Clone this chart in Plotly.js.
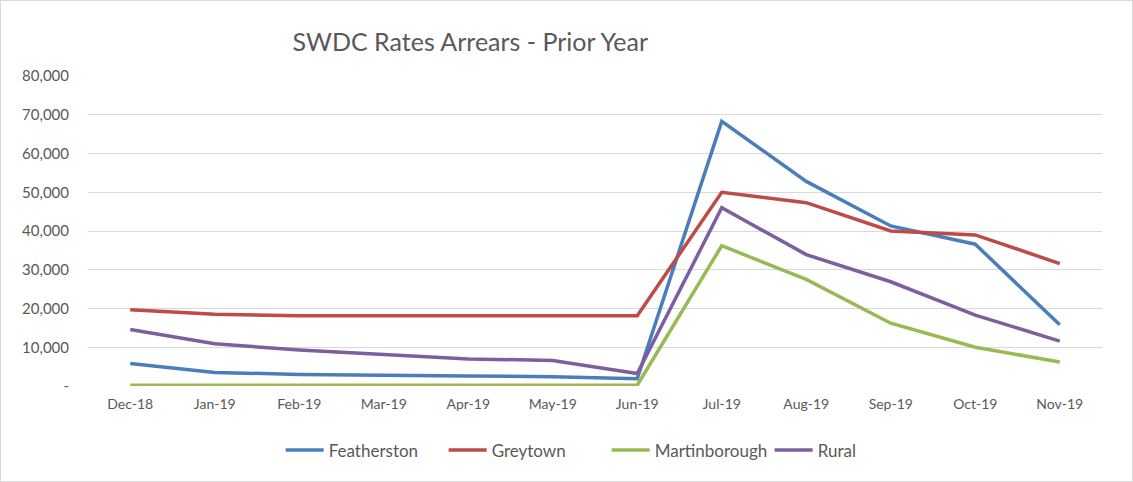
<!DOCTYPE html>
<html>
<head>
<meta charset="utf-8">
<script src="https://cdn.plot.ly/plotly-3.0.1.min.js"></script>
<style>
  html, body { margin: 0; padding: 0; background: #fff; }
  #chart { width: 1133px; height: 482px; box-sizing: border-box; border: 1px solid #d9d9d9; }
</style>
</head>
<body>
<div id="chart"></div>
<script>
const months = ["Dec-18","Jan-19","Feb-19","Mar-19","Apr-19","May-19","Jun-19","Jul-19","Aug-19","Sep-19","Oct-19","Nov-19"];
const featherston   = [5800, 3500, 3000, 2700, 2600, 2400, 1900, 68300, 52800, 41300, 36600, 15800];
const greytown      = [19700, 18500, 18100, 18100, 18100, 18100, 18100, 50000, 47300, 40000, 39000, 31600];
const martinborough = [200, 200, 200, 200, 200, 200, 200, 36200, 27500, 16200, 10000, 6200];
const rural         = [14600, 10900, 9300, 8100, 7000, 6600, 3200, 46000, 33900, 26900, 18300, 11600];
const yTickVals  = [0, 10000, 20000, 30000, 40000, 50000, 60000, 70000, 80000];
const yTickText  = ["-", "10,000", "20,000", "30,000", "40,000", "50,000", "60,000", "70,000", "80,000"];

const seriesNames  = ["Featherston", "Greytown", "Martinborough", "Rural"];
const seriesValues = [featherston, greytown, martinborough, rural];
const seriesColors = ["#4A7EBB", "#BE4B48", "#98B954", "#7D5FA0"];

const traces = seriesNames.map((n, i) => ({
  type: "scatter",
  mode: "lines",
  name: n,
  x: months,
  y: seriesValues[i],
  line: { color: seriesColors[i], width: 3.5 },
  hoverinfo: "x+y+name"
}));

const font = "Lato, 'Open Sans', 'Liberation Sans', sans-serif";

const layout = {
  width: 1131,
  height: 480,
  margin: { l: 87, r: 30, t: 75, b: 92 },
  paper_bgcolor: "#ffffff",
  plot_bgcolor: "#ffffff",
  font: { family: font, color: "#595959", size: 14 },
  title: {
    text: "SWDC Rates Arrears - Prior Year",
    font: { family: font, size: 25, color: "#595959" },
    x: 0.415, xanchor: "center",
    y: 0.915, yanchor: "middle"
  },
  xaxis: {
    type: "category",
    range: [-0.5, 11.5],
    showgrid: false,
    zeroline: false,
    showline: false,
    ticks: "",
    tickfont: { size: 14, color: "#595959" },
    ticklabelstandoff: 8
  },
  yaxis: {
    range: [0, 80000],
    tickvals: yTickVals,
    ticktext: yTickText,
    showgrid: true,
    gridcolor: "#d9d9d9",
    gridwidth: 1,
    zeroline: false,
    showline: false,
    ticks: "",
    tickfont: { size: 15, color: "#595959" },
    ticklabelstandoff: 18
  },
  showlegend: true,
  legend: {
    orientation: "h",
    x: 0.19, xanchor: "left",
    y: -0.15, yanchor: "top",
    font: { size: 17, color: "#595959" },
    itemwidth: 38,
    entrywidth: 110,
    entrywidthmode: "pixels"
  }
};

Plotly.newPlot("chart", traces, layout, { displayModeBar: false });
</script>
</body>
</html>
